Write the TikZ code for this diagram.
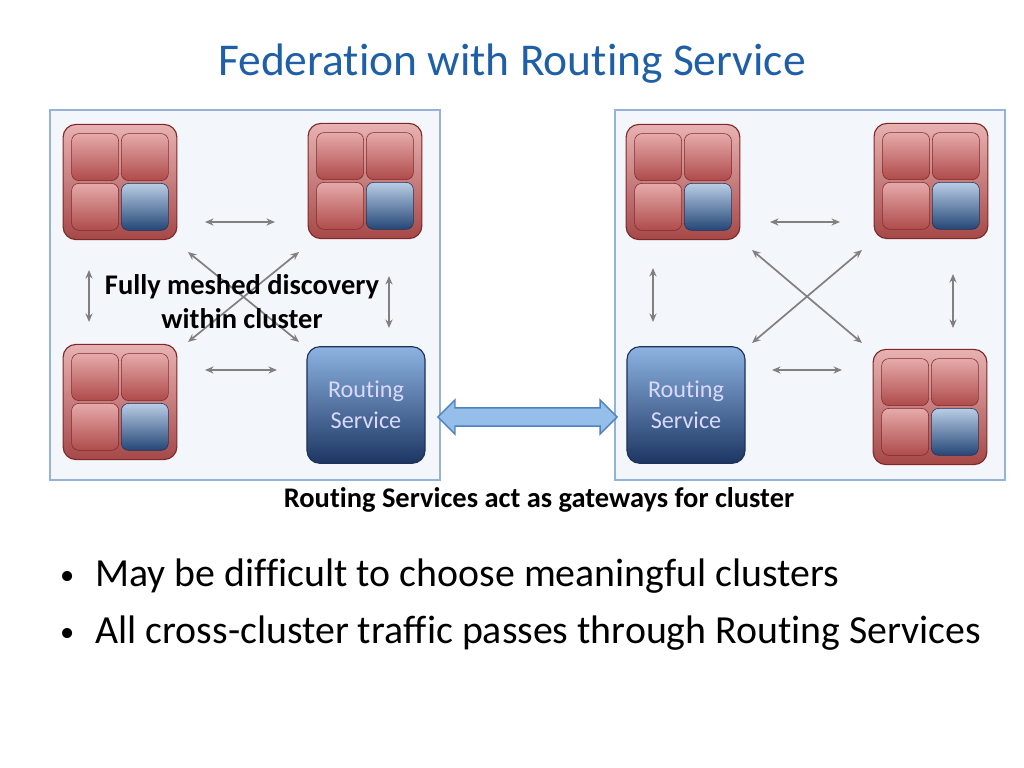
\documentclass[tikz,border=0pt]{standalone}
\usepackage{fontspec}
\setmainfont{Carlito}[Ligatures=NoCommon]
\usetikzlibrary{positioning,arrows.meta,shapes.arrows}

\definecolor{titleblue}{RGB}{31,95,168}
\definecolor{clusterline}{RGB}{149,179,215}
\definecolor{clusterfill}{RGB}{243,246,251}
\definecolor{hosttop}{RGB}{232,178,178}
\definecolor{hostbot}{RGB}{165,72,72}
\definecolor{hostline}{RGB}{128,40,40}
\definecolor{tiletop}{RGB}{230,170,170}
\definecolor{tilebot}{RGB}{175,75,75}
\definecolor{btiletop}{RGB}{185,205,229}
\definecolor{btilebot}{RGB}{36,70,118}
\definecolor{routertop}{RGB}{141,179,226}
\definecolor{routerbot}{RGB}{28,54,98}
\definecolor{routerline}{RGB}{30,50,90}
\definecolor{gwfill}{RGB}{150,190,235}
\definecolor{gwline}{RGB}{79,129,189}
\definecolor{linkgray}{RGB}{128,128,128}

\tikzset{
  cluster/.style={draw=clusterline, fill=clusterfill, line width=0.8pt},
  host/.style={draw=hostline, line width=0.8pt, rounded corners=9pt,
    top color=hosttop, bottom color=hostbot, minimum width=80pt, minimum height=81pt},
  tile/.style={draw=hostline, rounded corners=5pt, top color=tiletop, bottom color=tilebot,
    minimum width=33pt, minimum height=33pt},
  btile/.style={tile, draw=routerline, top color=btiletop, bottom color=btilebot},
  router/.style={draw=routerline, line width=0.8pt, rounded corners=9pt, top color=routertop,
    bottom color=routerbot, text=white!85!blue, align=center, font=\fontsize{17}{22}\selectfont,
    minimum width=83pt, minimum height=82pt},
  link/.style={linkgray, line width=1.2pt, {Stealth[length=6pt,width=5pt]}-{Stealth[length=6pt,width=5pt]}}
}

% a host with four tiles
\newcommand{\hostbox}[3]{%
  \node[host] (#1) at (#2,#3) {};
  \node[tile]  (#1a) at ([xshift=-17.5pt,yshift=17.5pt]#1.center) {};
  \node[tile]  (#1b) at ([xshift=17.5pt,yshift=17.5pt]#1.center) {};
  \node[tile]  (#1c) at ([xshift=-17.5pt,yshift=-17.5pt]#1.center) {};
  \node[btile] (#1d) at ([xshift=17.5pt,yshift=-17.5pt]#1.center) {};
}
\newcommand{\slidebullet}{\makebox[25pt][l]{\raisebox{1pt}{\fontsize{20}{20}\selectfont\textbullet}}}

\begin{document}
\begin{tikzpicture}[x=0.703125pt,y=-0.703125pt]
  \useasboundingbox (0,0) rectangle (1024,768);

  % Title
  \node[text=titleblue, font=\fontsize{32}{36}\selectfont] (title) at (512,64) {Federation with Routing Service};

  % Clusters
  \draw[cluster] (50,110) rectangle (440,480);
  \draw[cluster] (615,110) rectangle (1005,480);

  % Left cluster
  \hostbox{lA}{120}{182}
  \hostbox{lB}{365}{181}
  \hostbox{lC}{120}{402}
  \node[router] (lR) at (366,405) {Routing\\Service};

  % Right cluster
  \hostbox{rA}{683}{182}
  \hostbox{rB}{931}{181}
  \node[router] (rR) at (686,405) {Routing\\Service};
  \hostbox{rD}{930}{407}

  % Mesh links
  \foreach \ax/\ay/\bx/\by [count=\i] in {205/222/275/222, 205/370/277/370, 89/270/89/322, 389/276/389/328,
      188/252/299/342, 299/252/188/342, 770/222/840/222, 772/370/842/370, 653/268/653/322,
      953/274/953/328, 752/250/862/343, 862/250/752/343}{
    \coordinate (s\i) at (\ax,\ay);
    \coordinate (e\i) at (\bx,\by);
    \draw[link] (s\i) -- (e\i);
  }

  % Gateway link
  \node[double arrow, draw=gwline, fill=gwfill, line width=1pt, minimum height=126pt,
    minimum width=24pt, double arrow head extend=3pt, inner sep=3pt] (gw) at (527.5,417) {};

  % Labels
  \node[align=center, font=\bfseries\fontsize{20}{24}\selectfont] (mesh) at (242,302) {Fully meshed discovery\\within cluster};
  \node[font=\bfseries\fontsize{20}{24}\selectfont] (gwlabel) at (539,500) {Routing Services act as gateways for cluster};

  % Bullets
  \node[anchor=west, font=\fontsize{28}{32}\selectfont] (b1) at (55,576) {\slidebullet May be difficult to choose meaningful clusters};
  \node[anchor=west, font=\fontsize{28}{32}\selectfont] (b2) at (55,633) {\slidebullet All cross-cluster traffic passes through Routing Services};
\end{tikzpicture}
\end{document}
